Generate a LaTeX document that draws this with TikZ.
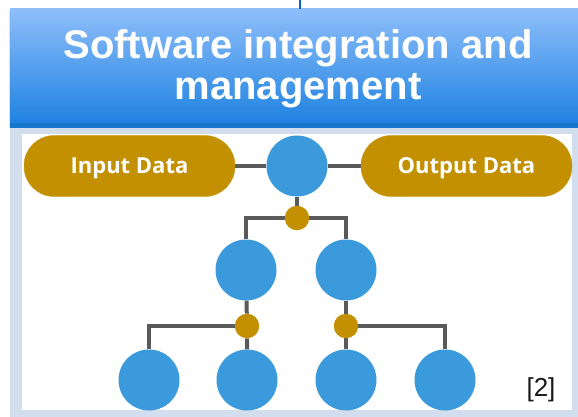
\documentclass[tikz,border=0pt]{standalone}
\usepackage{fontspec}
\setmainfont{Liberation Sans}
\newfontfamily\pillfont{Open Sans}
\usetikzlibrary{positioning}
\definecolor{hdrtop}{HTML}{8EBEFA}
\definecolor{hdrbot}{HTML}{1A80E0}
\definecolor{panel}{HTML}{D2DDEE}
\definecolor{nodeblue}{HTML}{3A9ADB}
\definecolor{gold}{HTML}{C29000}
\definecolor{wire}{HTML}{5A5A5A}
\definecolor{stem}{HTML}{1060C0}
\pgfdeclarelayer{bg}
\pgfdeclarelayer{wires}
\pgfsetlayers{bg,wires,main}
\tikzset{
  unit/.style={circle, fill=nodeblue, minimum size=61pt, inner sep=0pt},
  hub/.style={circle, fill=gold, minimum size=24.5pt, inner sep=0pt},
  pill/.style={rectangle, rounded corners=30pt, fill=gold, draw=gold!85!white,
    minimum width=211pt, minimum height=61pt, inner sep=0pt, text depth=0pt,
    text=white, font=\pillfont\bfseries\fontsize{22}{25}\selectfont},
  link/.style={draw=wire, line width=4pt},
}
\begin{document}
\begin{tikzpicture}[x=1pt,y=-1pt]
\useasboundingbox (0,0) rectangle (578,417);
% panels
\begin{pgfonlayer}{bg}
  \fill[white] (0,0) rectangle (578,417);
  \fill[panel] (10,128) rectangle (578,417);
  \fill[white] (22,134) rectangle (572,410);
  \fill[gray!25] (8.5,10) rectangle (10,128);
  \shade[top color=hdrtop, bottom color=hdrbot] (10,9) rectangle (578,128);
  \fill[hdrbot!92!black] (10,123) rectangle (578,128);
\end{pgfonlayer}
% header title
\node[text=white, font=\bfseries\fontsize{40}{41}\selectfont, align=center]
  (title) at (298,69) {Software integration and\\management};
\coordinate (stemtop) at (300,0);
\coordinate (stembot) at (300,9);
\draw[stem, line width=1.5pt] (stemtop) -- (stembot);
% top row
\node[pill] (in) at (129.5,166) {Input Data};
\node[pill] (out) at (466.5,166) {Output Data};
\node[unit] (root) at (297,166) {};
\node[hub] (h0) at (297,218) {};
% second row
\node[unit] (a) at (246,270) {};
\node[unit] (b) at (346,270) {};
\node[hub] (ha) at (247,326) {};
\node[hub] (hb) at (346,326) {};
% leaves
\node[unit] (a1) at (149,380) {};
\node[unit] (a2) at (247,380) {};
\node[unit] (b1) at (346,380) {};
\node[unit] (b2) at (445,380) {};
% connectors
\begin{pgfonlayer}{wires}
  \draw[link] (in) -- (root) -- (out);
  \draw[link] (root) -- (h0);
  \draw[link] (h0) -| (a);
  \draw[link] (h0) -| (b);
  \draw[link] (a) -- (ha) -- (a2);
  \draw[link] (ha) -| (a1);
  \draw[link] (b) -- (hb) -- (b1);
  \draw[link] (hb) -| (b2);
\end{pgfonlayer}
\node[font=\fontsize{26}{28}\selectfont, text=black!90] (ref) at (541,390) {[2]};
\end{tikzpicture}
\end{document}
